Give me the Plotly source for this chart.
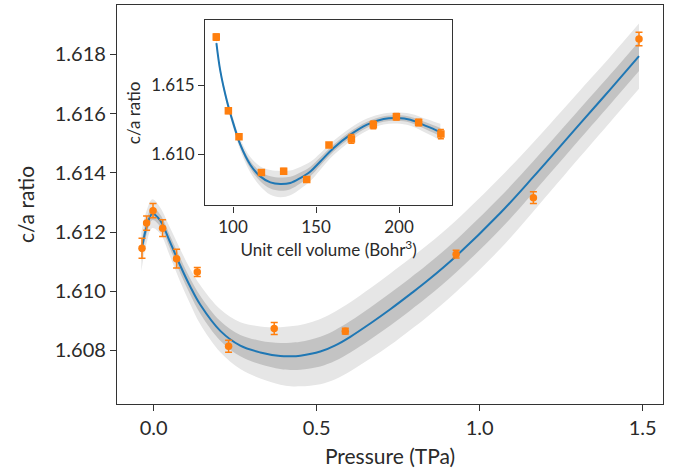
import plotly.graph_objects as go

# ---- data ----
pressure = [-0.0356, -0.0215, -0.0018, 0.0276, 0.0705, 0.134, 0.230, 0.370, 0.588, 0.928, 1.165, 1.489]
volume = [225.2, 211.8, 198.4, 184.5, 171.3, 157.8, 144.4, 130.5, 117.1, 103.6, 97.2, 89.9]
c_ratio = [1.61145, 1.61230, 1.61272, 1.61213, 1.61110, 1.61065, 1.60814, 1.60874, 1.60865, 1.61125, 1.61316, 1.61852]
c_err = [0.00034, 0.00024, 0.00024, 0.00028, 0.00032, 0.00015, 0.00020, 0.00020, 0.00010, 0.00013, 0.00020, 0.00023]

# main fit curve (pressure) with 1-sigma width
fit_p = [-0.0377, -0.0224, -0.0040, 0.0206, 0.0512, 0.0819, 0.1126, 0.1433, 0.2046, 0.2660, 0.3273,
         0.3887, 0.4200, 0.4500, 0.5114, 0.5574, 0.6034, 0.6647, 0.7261, 0.7874, 0.8396, 0.9285, 1.0635,
         1.1647, 1.3089, 1.4009, 1.4890]
fit_c = [1.61133, 1.61214, 1.61262, 1.61238, 1.61164, 1.61086, 1.61015, 1.60954, 1.60866, 1.60816,
         1.60793, 1.60781, 1.60780, 1.60782, 1.60796, 1.60817, 1.60846, 1.60891, 1.60939, 1.60990,
         1.61035, 1.61119, 1.61264, 1.61386, 1.61567, 1.61682, 1.61794]
fit_sig = [0.00030, 0.00025, 0.00022, 0.00020, 0.00022, 0.00025, 0.00027, 0.00030, 0.00033, 0.00036,
           0.00040, 0.00044, 0.00046, 0.00047, 0.00050, 0.00052, 0.00053, 0.00054, 0.00055, 0.00055,
           0.00055, 0.00055, 0.00055, 0.00053, 0.00051, 0.00050, 0.00050]

# inset fit curve (volume)
fit_v = [90.0, 92.4, 96.4, 100.4, 104.4, 110.4, 116.4, 122.5, 128.5, 134.5, 140.5, 146.6, 152.6,
         160.6, 170.7, 180.7, 190.7, 198.8, 206.8, 216.9, 224.9]
fit_vc = [1.61809, 1.61602, 1.61383, 1.61214, 1.61068, 1.60922, 1.60837, 1.60793, 1.60781, 1.60789,
          1.60825, 1.60873, 1.60946, 1.61044, 1.61141, 1.61214, 1.61255, 1.61262, 1.61250, 1.61201, 1.61160]
fit_vsig = [0.00015, 0.00015, 0.00015, 0.00018, 0.00020, 0.00028, 0.00036, 0.00045, 0.00048, 0.00045,
            0.00040, 0.00035, 0.00030, 0.00026, 0.00024, 0.00022, 0.00020, 0.00020, 0.00022, 0.00026, 0.00030]

ORANGE = "#ff7f0e"
BLUE = "#1f77b4"
LIGHT = "#e6e6e6"
DARK = "#c3c3c3"
FONT = "Lato"
TXT = "#2a2a2a"

fig = go.Figure()


def add_band(x, y, s, k, color, xa, ya):
    up = [a + k * b for a, b in zip(y, s)]
    lo = [a - k * b for a, b in zip(y, s)]
    fig.add_trace(go.Scatter(x=x, y=up, mode="lines", line=dict(width=0, shape="spline"),
                             hoverinfo="skip", showlegend=False, xaxis=xa, yaxis=ya))
    fig.add_trace(go.Scatter(x=x, y=lo, mode="lines", line=dict(width=0, shape="spline"),
                             fill="tonexty", fillcolor=color, hoverinfo="skip",
                             showlegend=False, xaxis=xa, yaxis=ya))


# main panel
add_band(fit_p, fit_c, fit_sig, 2.2, LIGHT, "x", "y")
add_band(fit_p, fit_c, fit_sig, 1.0, DARK, "x", "y")
fig.add_trace(go.Scatter(x=fit_p, y=fit_c, mode="lines", line=dict(color=BLUE, width=2, shape="spline"),
                         showlegend=False, xaxis="x", yaxis="y"))
fig.add_trace(go.Scatter(x=pressure, y=c_ratio, mode="markers",
                         marker=dict(color=ORANGE, size=7.5, symbol="circle"),
                         error_y=dict(type="data", array=c_err, color=ORANGE, thickness=1.5, width=3.5),
                         showlegend=False, xaxis="x", yaxis="y"))

# inset
add_band(fit_v, fit_vc, fit_vsig, 2.0, LIGHT, "x2", "y2")
add_band(fit_v, fit_vc, fit_vsig, 1.0, DARK, "x2", "y2")
fig.add_trace(go.Scatter(x=fit_v, y=fit_vc, mode="lines", line=dict(color=BLUE, width=2, shape="spline"),
                         showlegend=False, xaxis="x2", yaxis="y2"))
fig.add_trace(go.Scatter(x=volume, y=c_ratio, mode="markers",
                         marker=dict(color=ORANGE, size=7.5, symbol="square"),
                         error_y=dict(type="data", array=c_err, color=ORANGE, thickness=1.5, width=3),
                         showlegend=False, xaxis="x2", yaxis="y2"))

axis_common = dict(showgrid=False, zeroline=False, showline=True, linecolor="#333333", linewidth=1.3,
                   mirror=True, ticks="outside", ticklen=6, tickcolor="#333333", tickwidth=1.2)

fig.update_layout(
    width=677, height=475,
    margin=dict(l=117, r=14, t=5, b=71),
    plot_bgcolor="white", paper_bgcolor="white",
    font=dict(family=FONT, color=TXT, size=20),
    xaxis=dict(range=[-0.1123, 1.5626], tickvals=[0, 0.5, 1.0, 1.5], tickformat=".1f",
               title=dict(text="Pressure (TPa)", font=dict(size=21), standoff=11),
               tickfont=dict(size=20), **axis_common),
    yaxis=dict(range=[1.606189, 1.619669], tickvals=[1.608, 1.610, 1.612, 1.614, 1.616, 1.618],
               tickformat=".3f", title=dict(text="c/a ratio", font=dict(size=21), standoff=14),
               tickfont=dict(size=20), **axis_common),
    xaxis2=dict(domain=[0.1617, 0.6136], anchor="y2", range=[83.3, 231.9], tickvals=[100, 150, 200],
                title=dict(text="Unit cell volume (Bohr<sup>3</sup>)", font=dict(size=17), standoff=4),
                tickfont=dict(size=17), **axis_common),
    yaxis2=dict(domain=[0.4977, 0.9614], anchor="x2", range=[1.606254, 1.619738], tickvals=[1.610, 1.615],
                tickformat=".3f", title=dict(text="c/a ratio", font=dict(size=17), standoff=6),
                tickfont=dict(size=17), **axis_common),
)

fig.write_html("out.html")
